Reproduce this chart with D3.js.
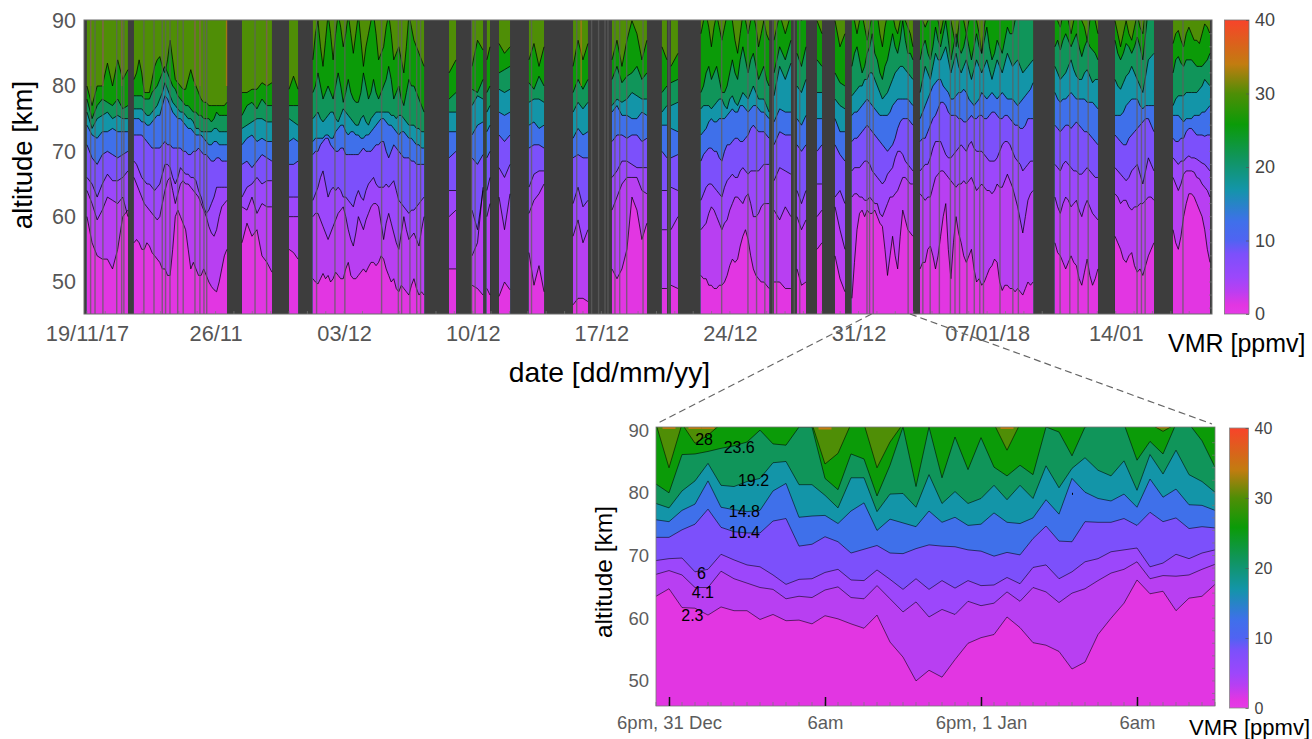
<!DOCTYPE html>
<html>
<head>
<meta charset="utf-8">
<script src="https://cdnjs.cloudflare.com/ajax/libs/d3/7.8.5/d3.min.js"></script>
<style>
body { margin: 0; background: #fff; }
svg { display: block; font-family: "Liberation Sans", Arial, sans-serif; }
</style>
</head>
<body>
<div id="chart"></div>
<script>
// contour levels [ppmv], bands are filled between them
var levels = [2.3, 4.1, 6, 10.4, 14.8, 19.2, 23.6, 28];

// colormap of the colorbars
var cmapValues = [0, 1.2, 3.2, 5, 8.2, 10, 12.6, 17, 21.4, 25.8, 30, 34, 40];
var cmapColors = ["#e63ae6", "#e236e2", "#b83ff2", "#9c47fb", "#7c50fb", "#5063f2", "#3f70ea", "#1395a8", "#10955a", "#0b9b08", "#4f8e06", "#c27c10", "#f8432a"];

// top panel: measurement blocks, in days after 19/11/17
var segStart = [0, 2.56, 8.44, 11.0, 12.3, 19.71, 20.96, 21.77, 22.43, 24.06, 26.46, 28.58, 31.3, 31.79, 33.42, 37.4, 38.65, 39.74, 40.72, 41.64, 45.35, 52.69, 55.96, 59.12];
var segEnd = [2.23, 7.62, 10.07, 11.49, 18.35, 20.09, 21.56, 21.94, 23.03, 24.88, 27.27, 30.48, 31.57, 32.17, 37.13, 38.32, 39.14, 40.01, 41.26, 44.96, 51.5, 55.03, 58.08, 61.13];

// top panel: altitude [km] of each contour, one list per block
var top2_3 = [
[60,56,54,53.5,53.5,52,55,60,61],
[56,56.5,56,55,55,56,55.5,54.5,54,53.5,53,52,52,51,51,55,60,61,60,59,58,55,52,53,52,51,51,52,51,50,49.3,48.8,48.5,50,52,54,55],
[56,59,57,58,54,53,51.5],
[55,54.5,53.5],
[50.5,50,49.7,50.5,51.3,50.5,51,50,50.5,51.5,51,50.5,50.5,52,53,51,50.5,50.5,51,51.5,52,51.5,52.3,53,53,52.5,53,54,53.5,52,51,50,50.5,49,48.5,49.5,49,48.5,48,49.5,50.5,49,48,48.5,48],
[52,52],
[49.5,49,48],
[49,48],
[47.8,50,48.8],
[54.5,49.5,52.5,48.5],
[46.5,47.5,47.5,47],
[52,50.5,52,55,63,61,56.5,59],
[49,49],
[49.5,49],
[51,50.5,50.5,49.5,49.5,49,49,49.5,49.5,50,51,52.5,53.5,53,53.5,55.5,57,58,56.5,54,52,51,50.5,50,50,49.5,49],
[50,50,49,49],
[52,49.5,50],
[55,56],
[54,50.5,48.5],
[47.5,53,58,60.5,61,60,61,60.5,60.5,61,60,59,58.5,55,51,54,57,54,52,57,61,59.5,58,57.5,57],
[52,53,53,55,55.5,54,52,54,57,60,62,55,50.5,56,60,57.5,56,54,53,54,55,52,50,50.5,49.5,50,51,52,52.5,53.5,53,50,48.7,49.5,49.5,49,49,48.5,49,48.5,48,49,50,49.5,50],
[56,54.5,54,53,52,53,54,53,52.5,50.5,49.5,51.5,53.5,51,49.5,50.5,52],
[57,56,55,53.5,53,54,54.5,52.5,51.5,52,51,52.5,54,55,56],
[58,56,55,57,60,62,63.5,63.5,63,62,61,60,58,55,53]
];
var top4_1 = [
[64,62,59.5,61,63,62.5,62,63,60],
[66,65,64,63,62,61.5,61,60.5,60,59.5,60,62,64,65.5,66,64,62,63.5,65,65.5,65,65,64.5,64,63.5,63,62,61,60,58.5,57.5,57,58,60,61.5,62,62.5],
[61.5,61,63,60.5,62,61.5,61.5],
[60,60,60],
[60,60.5,60.5,59.5,58.5,57.5,56.5,57.5,58.5,59.5,60.5,61,61.5,60,58,56.5,55.5,57.5,60,59,58,59.5,60.5,61.5,62,62,61.5,59,56.5,59,60.5,59,57.5,56,55,57.5,60,58,56.5,57,57.5,56.5,55.5,58,60],
[60,61],
[54,56,64.5],
[60,62],
[63,58,63.5],
[60.5,62.5,63.5,65],
[57,59.5,56,58],
[61,63,65,66,66,66,64,63.5],
[58,58],
[58,60],
[58,58.5,59,60.5,61.5,61,60,59,58,59,59.5,61,62,63,63,62.5,62,63,63.5,62,60,60,60.5,61.5,62,62,62],
[61,59.5,61.5,60],
[60,58,59.5],
[60,61],
[61.5,58,55],
[63,63.5,63.5,63,63,62.5,62.5,63,62.5,62,62,60.5,60,61,62,63,63,63.5,64,65,66,66,65.5,65,65],
[63.5,63,62.5,63,63,64.5,66,66.5,67,67,66.5,66,65.5,65,64.5,65,65,65.5,65,65.5,66,65,64,64.5,65,64.5,64,64,63.5,64,65,64.5,64.5,65.5,66.5,65.5,64.5,63,61.5,59.5,57.5,60,62.5,63.5,64],
[63,61.5,60.5,62,63,62.5,61.5,62,62.5,61,60,61.5,62.5,61.5,60.5,60,59.5],
[63.5,63,62,62.5,62.5,61.5,61,61.5,61.5,62,62,62.5,63,63,62.5],
[66,65,64,65,66.5,67,67,67,66.8,66,65.8,65,64.5,64,63]
];
var top6 = [
[66,65,63,65,66.5,65.5,65.5,66,67],
[68.5,68,67,66,65.5,65,65,64.5,64,64.5,65,66.5,68,68,67.5,66,65,66,67.5,67,66.5,66.5,66,66,65.5,64,63,61.5,60.5,61,62,63,64.5,64.5,64.5,64.5,64.5],
[63,64.5,65,66,65,65.5,65.5],
[63,63,63],
[62.5,63.5,64.5,66,67,65,63,64,64.5,64,64.5,64,63,63,62.5,62,61.5,63,64,63,62.5,64,65,65.5,66,65,64.5,64.5,64.5,65,64.5,65,65.5,64,62.5,62,61.5,61,60.5,61,61,61.5,62,62.5,63],
[64,64],
[61,58,64],
[64,66],
[67.5,66,68],
[64.5,66.5,67,67],
[62,64.5,61.5,62.5],
[66,67,68.5,68.5,68,67.5,67.5,67.5],
[64,64],
[64.5,64],
[62.5,63.5,64.5,65,65,64.5,64,63.5,63,64.5,65.5,66,66.5,66,66,67,67.5,67,66.5,67,67,67,67,67.5,68,68,68],
[65.5,67.5,67,66.5],
[64,62,64],
[65,65],
[63,64,62],
[67,67.5,67.5,67.5,68,68.5,68.5,68,67,66.5,66,65.5,65,65.5,66.5,67,67.5,69,70,70,69.5,68.5,68,67.5,67],
[67,67.5,68,68,69,70.5,71.5,71.5,71.5,70.5,69.5,69,69,69.5,70,70.5,71,70.5,70,71,71.5,70.5,70,70,70,69.5,69,68.5,68.5,68.5,69,70,71,71.5,71.5,71,70,69,68.5,68,67,67.5,68,68.5,68.5],
[68,67.5,67,68,68.5,68,67.5,67,67,66.5,66.5,67,67.5,67,66.5,66,66],
[67.5,67,66.5,66,65.5,66,67,67.5,68,66.5,65,67,69,68,67],
[69,68.5,68,68.5,68.5,69,69.3,69,69,68.8,68.5,68.2,68,67.5,67]
];
var top10_4 = [
[71,69,68,69.5,70,69.5,69,69.5,70],
[72.5,72.5,72.5,72.5,72,71.5,71,70.5,70.5,70.5,70.5,71,71.5,71,71,70.5,70.5,70.5,70.5,70,70,69.5,69.5,70,70,70.5,70,69.5,69.5,69,68.5,68.5,69,69,68.5,68.5,68.5],
[68,68.5,67.5,68.5,69.5,69,68.5],
[68,68,68.5],
[69.5,70,70,71,71.5,72,72,71,70.5,70,70,70.5,70.5,69.5,69.5,69.5,69.5,69.5,69.5,70,70.5,70,70,70,70.5,71,71,71.5,71.5,70,69,70,71,70.5,70,69.5,69,69,69,68.5,68.5,68,68,68,68],
[69,70],
[69,68,69.5],
[69,70],
[72.5,71.5,72.5],
[70.5,71,71,70.5],
[69,69.5,69,69],
[71.5,72.5,72.5,72,72.5,72.5,71.5,72],
[70,69],
[69,69.5],
[68.5,69.5,70,70.5,70.5,70,70,69,68.5,70,71,71,71.5,72,72,71.5,71.5,72,72.5,73.5,74,73.5,73,73,73,72.5,72],
[71,73,72.5,72.5],
[71,70,71],
[70,71],
[71,69.5,68.5],
[71.5,72,72,72.5,73,73.5,74,73.5,73,72.5,72,71.5,71,70.5,70,70.5,71,72,73.5,74.5,75,75,75,74.5,74],
[71.5,72,72,73,74,75,75.5,76.5,77.5,77.5,77,76,75.5,75.5,75.5,75,75,74.5,74.5,75,75.5,75,75,75.5,75.5,75,75,75.5,76,76,75.5,75,75,75.5,75.5,75,74.5,74,74,73.5,73.5,74,75,75,75],
[74,73.5,73,73.5,74,74,73.5,74,74.5,74,73.5,73,73,72.5,72,71.5,71],
[72.5,72,71.5,71,71,72,72.5,73,73.5,74,74.5,75,75,74,73],
[72,71.5,71.5,72,72,73,73.5,73.5,73,72.5,72.5,72.5,72.3,72.5,72.5]
];
var top14_8 = [
[74,72.5,72,73,73,73.5,73,73,73],
[75,75,75,74.5,74.5,74,74,74.5,75,75.5,75.5,77,78.5,78,77,76,75.5,75,75,74.5,74,73.5,73.5,73,72.5,72.5,72.5,72,71.5,71,71,71.5,71.5,71,71,71,71],
[71,72,72.5,71.5,72,71.5,71.5],
[71.5,72,71.5],
[71.5,72,72,72,72,72.5,72.5,72,72,73,73.5,74,74,73,72.5,73,73,72.5,72.5,72,72,72.5,72.5,73,73.5,74,74.5,75,75,74.5,74,74,73.5,73,72.5,73,73,72.5,72,72,71.5,71,71,70.5,70.5],
[73,73],
[72.5,74,74.5],
[73,74],
[76,75.5,76],
[74,74.5,73.5,74],
[72,73.5,72.5,73],
[76,77,75.5,75.5,75,75,76,75.5],
[74,74],
[73.5,73],
[72.5,73,73.5,74.5,75,74.5,74.5,75,75,75,75.5,76,76.5,76,76,77,77,76.5,76,76.5,77,77,76.5,76,76,75.5,75],
[74.5,76.5,76,76],
[75,74,75.5],
[75,75],
[75,73,73],
[75.5,76,76,76.5,77,77.5,78,77.5,77,76.5,76,75.5,75.5,75.5,75.5,76,77,77.5,78,78,78,78,78,77.5,77],
[75,76,77,78,79,80,80.5,81,81,80,79.5,79,78,78,78.5,79,79,79.5,79,78,77.5,77,77.5,78,79,78.5,78,78.5,79,78.5,78,78.5,79,78.5,78,78,78,77.5,77,77.5,78,78.5,79,79.5,80.5],
[79,78,77.5,78,78,78.5,79,78.5,78,78,78,78,77.5,77.5,77.5,77,76.5],
[75.5,75.5,75.5,76,77,77.5,78,78,78,77,76.5,77,77,77,77],
[75.5,75.5,75.5,75,74.5,75,75,75,75.5,75.5,75.5,76,76,76.5,77]
];
var top19_2 = [
[76,73.5,75,75.5,76,75,75.5,75,75],
[76.5,76.5,76.5,76.5,76,75.5,75.5,76,76.5,77,78,79,80.5,79.5,78.5,77.5,77,76.5,76,76,75.5,75,75,74.5,73.5,73.5,73,73,73,73,73,73.5,73.5,73,73,73,73],
[73.5,74,74.5,75,75,74.5,74.5],
[75,74.5,74],
[75,75.5,76,75,74.5,75,75.5,76,76,75,74.5,75.5,76.5,76,75.5,75,74.5,74,74,75,75.5,74.5,74,75,75.5,76,76,76,76,76,76,75.5,75.5,75,75.5,75.5,75,74.5,74,74,74,73.5,73.5,73,73],
[76,76],
[77,78.5,78],
[76,77],
[79.5,79,79.5],
[77.5,78,78,77.5],
[76,77.5,76.5,77.5],
[77,78,77.5,78,79,78.5,78,78],
[76,77],
[77,77.5],
[76.5,77,77,77,76.5,77,77.5,78,78,77,76.5,78,78.5,77.5,77,78,79,78.5,78,79,80,79,78,78,78,77,76],
[78.5,83,81,83.5],
[80,79,81],
[79,79],
[78,77,76.5],
[78.5,79,79.5,80,80,81,81,82,82,81,80,79,78,78.5,79,80,81,82,82.5,83,83,82.5,82,81.5,81],
[79,81,83,82,81,83,85,84,84,85,86,84,82,83.5,85,83,82,83,84,82.5,81,82.5,84,83,82,83,84,82.5,81,82.5,84,83,82,83.5,85,84,83,83.5,84,83,82,82.5,83,83.5,84],
[83,82,81,81.5,82,83,84,82.5,81.5,81,81,82,82.5,81.5,80.5,81,81],
[81,80,79.5,80.5,81.5,82,83,82,81,80,79,81.5,84,84.5,85],
[77,78,78.5,78.5,78.5,79,79,79,79,79,79.5,80,81,80.5,80]
];
var top23_6 = [
[78,75,77,78,77.5,77,78,76.5,77],
[78.5,78.5,78.5,78.5,78,78,78,79,79.5,80,81,82,83,82,81,80,79.5,78.5,78,77.5,77,77,76.5,76,76,75.5,75.5,75,75,75,74.5,75,76,75.5,75.5,75.5,75.5],
[75.5,77,77.5,76.5,78,77,77],
[77,77,77],
[79,80,82,80,78,79,80,79,78,80,82,80,77.5,79,81,79,78,77.5,77.5,79,82,80,78,79,81,79,78,79,80,81,83,81,78,79,80,78,77,79,81,80,80,79,78,77,76],
[78,79],
[79.5,79,81],
[79,80],
[82,82.5,83],
[80.5,79.5,81.5,80],
[79,81,79.5,81],
[81,83,80.5,81.5,82,83,81,82],
[79,80],
[80.5,81],
[79,80,82,83,81,82,83,81,79,79,80,82,84,82,81,84,86,84,82,84,85,83,81,82,83,81,80],
[82,86,84,87],
[85,83,86],
[84,83],
[82,80.5,80],
[83,85,86,84,82,83,85,86,88,85,84,82,81,83,84,86,88,86,85,87,90,87,85,85,84],
[84,86,87,85,84,86,89,87,86,88,90,87,84,86,88,86,85,86,88,86,84,86,88,86,85,87,89,86,84,85,87,86,85,87,89,88,88,90,91,92,92,92,92,92,92],
[86,87,85.5,87,88,87,86,87,88,86,84.5,86,87,86,85.5,85,84],
[87,85,84,85,86.5,86,85,86,87.5,86,84,88,92,92,92],
[82,84,84.5,83.5,83,84,84,84,83.5,83,83,83,83.5,84,85]
];
var top28 = [
[80,77,80,80,83.5,80,84,81,82.5],
[81,82,84,82,79,79,79,81,83,84,84.5,83,82,84,87,84,81,80.5,80,79.5,79.5,81,82.5,81,80,79,78,77.5,77.5,77,77,77,77,77,77,77,77.5],
[79,79,79.5,79.5,80.5,80,80.5],
[79.5,81.5,79.5],
[84,88,90,86,83,87,91,88,84,88,91,89,86,88,91,88,85,88,91,87,83,86,88,90,91,88,84,85,86,89,91,88,84,85,86,84,82,86,91,89,87,86,85,84,83],
[82,84],
[83,87,85.5],
[84,86],
[86.5,85,86],
[84,86.5,83,86],
[83,87,84,86.5],
[84,87,83,87,90,88,84,87],
[86,84],
[83,85],
[88,90,91,89,86,89,91,89,87,89,91,92,90,87,85,88,91,90,88,90,91,89,86,88,90,88,87],
[87,91,88,91],
[91,90,91],
[90,88],
[90,86,88],
[91,90,88,90,91,89,87,89,91,92,91,88,86,89,91,92,91,89,88,90,91,90,89,88,86],
[91,90,89,90,91,92,92,90,88,90,92,91,90,88,86,89,92,90,88,90,92,91,90,88,85,89,92,92,92,92,92,92,92,92,92,92,92,92,92,92,92,92,92,92,92],
[91,90,89,91,92,90,88,90,92,91,90,89,87,90,92,90,88],
[90,88,86,88,90,88,87,89,91,89,88,92,92,92,92],
[86.5,88,88.5,87,86,88,89,88,87,87,86.5,88,89.5,89,88]
];
var topContours = [top2_3, top4_1, top6, top10_4, top14_8, top19_2, top23_6, top28];

// top panel: single missing profiles inside the blocks, in days
var missingDays = [0.2,0.44,0.87,1.62,1.89,2.01,3.1,3.65,4.1,4.28,4.52,4.94,5.24,5.88,6.15,6.37,6.52,9.15,9.78,12.5,13.5,14.04,16.04,16.95,17.13,17.58,17.95,18.16,20.94,21.13,24.2,26.66,27.47,27.85,28.2,28.36,28.74,29.0,29.38,30.27,31.68,34.55,35.98,36.45,36.9,37.34,37.54,38.5,38.8,42.46,42.6,42.8,44.7,45.5,45.9,46.4,47,47.25,47.5,47.9,48.3,48.6,48.8,49.7,50.4,50.7,52.97,53.5,53.95,54.5,57.16,57.4,57.6,59.66];
var hotDays = [0.2,0.87,1.89,5.88,6.15,7.6,9.78,26.9];

// tick labels of the top panel
var weekDays = [0, 7, 14, 21, 28, 35, 42, 49, 56];
var weekLabels = ["19/11/17", "26/11", "03/12", "10/12", "17/12", "24/12", "31/12", "07/01/18", "14/01"];

// zoomed period, days after 19/11/17
var zoomStartDay = 42.71;
var zoomEndDay = 44.8;

// lower panel: one value per hour, starting 5pm on 31 Dec
var hourly2_3 = [63.5,64.7,61.7,61.6,60.5,61.8,61.2,61.2,59.8,60.6,59.6,59.7,59.1,60.4,59.9,59.1,58.4,60.5,56.2,53.8,50,51.7,50.6,53.4,56,56.9,57.4,60.2,58.5,56.1,55.7,54.7,51.9,53,57.4,60,62.4,66.1,63.9,64.3,61.2,63.2,63.5,65.4];
var hourly4_1 = [67,67.6,66.9,64.9,64.9,67.5,66.3,65.6,64.9,64.6,63.1,63.5,63.3,64.5,65,63.3,63.1,65.2,63.1,61,62.6,60.2,61.4,60.6,62.7,62,62.4,64.2,62.7,64.9,64.2,62.5,64,64.7,66,67.2,67.8,69,66.3,66.8,66.7,66.9,67.8,68.6];
var hourly6 = [69.2,69.5,69.6,67.4,67.8,70.2,69.3,68.5,68.2,66.9,65.4,66.2,66.3,67.3,67.8,66.1,66,67.7,66.2,64.6,66.3,64.6,66,64.8,66,65.2,65.3,66.5,65.5,68.1,68.5,66.3,67.4,69,69.5,70.6,70.9,71.2,68.2,68.8,70.2,69.5,70.4,70.9];
var hourly10_4 = [72.9,72.9,74.1,75,77.4,74.5,73.8,73.6,73.6,75.5,75.9,71.5,71.8,73,72.2,70.4,71,71.6,70.4,70.3,71.1,71.7,71.5,71.4,70.9,70.7,69.9,70.5,70.1,72.7,74.7,72.3,72.2,75.4,75.3,75.3,75.9,74.8,76.9,75.4,76,74.3,74.6,74.4];
var hourly14_8 = [75.7,75.4,77.2,78.2,81.9,77.7,77.3,77,77.2,80.3,81.5,76.1,76.3,76.4,75.1,77.1,78.4,74,75.8,75.2,74.6,77.1,75.3,76.1,74.8,75,76.8,75.3,75.1,76,78.9,76.6,82.3,80.1,79.1,78.7,79.8,77.7,82.2,79.3,80.6,78.1,78,77.2];
var hourly19_2 = [78.3,77.6,80.3,81.9,84.7,81.2,81,81.8,82.3,84.8,85,81.3,81.3,79.6,77.6,82.4,82.4,77,79.8,79.9,77.7,82.9,78.3,80.2,78.3,79.1,81.2,78.9,81.2,79.1,84.3,80.8,83.9,85.6,83.6,82.7,85.1,80.4,86.1,83,86.8,82.9,81.8,80.1];
var hourly23_6 = [81.4,80,86.1,86.2,86.6,87.1,87.5,88.1,90,87.8,87.6,90.5,90.5,82.3,80.5,86.2,85.4,79.5,84.4,90.5,81,90.5,82.4,88.9,83.7,88.8,84.1,82.7,84.4,82.9,90.5,89.7,85.9,90.5,91,91,91,85.2,88.2,86.2,91,91,88.3,84.1];
var hourly28 = [91,84,91,87.9,89.2,91,91,91,91,91,91,91,91,84.6,86.3,91,91,84,88.1,91,91,91,91,91,91,91,91,86.8,91,91,91,91,91,91,91,91,91,91,91,89.8,91,91,91,91];
var hourly32 = [91,90.2,91,90.2,90.2,91,91,91,91,91,91,91,91,90.1,91,91,91,91,91,91,91,91,91,91,91,91,91,90.2,91,91,91,91,91,91,91,91,91,91,91,90.3,91,91,91,91];
var hourlyContours = [hourly2_3, hourly4_1, hourly6, hourly10_4, hourly14_8, hourly19_2, hourly23_6, hourly28];

// labels on the lower panel contours
var labelText = ["28", "23.6", "19.2", "14.8", "10.4", "6", "4.1", "2.3"];
var labelHour = [3.7, 6.4, 7.5, 6.8, 6.8, 3.5, 3.6, 2.8];
var labelAlt = [88.6, 87.3, 82, 77.1, 73.7, 67.2, 64.2, 60.5];

var zoomTickHours = [1, 13, 25, 37];
var zoomTickLabels = ["6pm, 31 Dec", "6am", "6pm, 1 Jan", "6am"];

var colorOf = d3.scaleLinear().domain(cmapValues).range(cmapColors);
function bandColor(i) {
  var lo = i == 0 ? 0 : levels[i - 1];
  var hi = i < levels.length ? levels[i] : 32;
  return colorOf((lo + hi) / 2);
}

var svg = d3.select("#chart").append("svg").attr("width", 1312).attr("height", 739);
var defs = svg.append("defs");

// scales
var xTop = d3.scaleLinear().domain([-0.16, 61.24]).range([84, 1212]);
var yTop = d3.scaleLinear().domain([45.1, 90.1]).range([314, 20]);
var xLow = d3.scaleLinear().domain([0, 43]).range([656, 1215]);
var yLow = d3.scaleLinear().domain([46, 90.5]).range([706, 427]);

defs.append("clipPath").attr("id", "clipTop").append("rect")
  .attr("x", 84).attr("y", 20).attr("width", 1128).attr("height", 294);
defs.append("clipPath").attr("id", "clipLow").append("rect")
  .attr("x", 656).attr("y", 427).attr("width", 559).attr("height", 279);

var gradient = defs.append("linearGradient").attr("id", "cmap")
  .attr("x1", 0).attr("y1", 1).attr("x2", 0).attr("y2", 0);
gradient.selectAll("stop").data(cmapValues).enter().append("stop")
  .attr("offset", function (d) { return d / 40; })
  .attr("stop-color", function (d, i) { return cmapColors[i]; });

// ---- top panel
var gTop = svg.append("g").attr("clip-path", "url(#clipTop)");
gTop.append("rect").attr("x", 84).attr("y", 20).attr("width", 1128).attr("height", 294).attr("fill", "#3d3d3d");

// top band first, lower bands are painted over it
segStart.forEach(function (s, k) {
  gTop.append("rect")
    .attr("x", xTop(s)).attr("y", 20)
    .attr("width", xTop(segEnd[k]) - xTop(s)).attr("height", 294)
    .attr("fill", bandColor(levels.length));
});

function segX(k, n) {
  return d3.scaleLinear().domain([0, n - 1]).range([xTop(segStart[k]), xTop(segEnd[k])]);
}
for (var lev = levels.length - 1; lev >= 0; lev--) {
  topContours[lev].forEach(function (vals, k) {
    var sx = segX(k, vals.length);
    gTop.append("path").datum(vals)
      .attr("fill", bandColor(lev))
      .attr("d", d3.area().x(function (d, i) { return sx(i); }).y0(314).y1(function (d) { return yTop(d); }));
  });
}
topContours.forEach(function (contour) {
  contour.forEach(function (vals, k) {
    var sx = segX(k, vals.length);
    gTop.append("path").datum(vals)
      .attr("fill", "none").attr("stroke", "#000").attr("stroke-width", 0.8).attr("stroke-opacity", 0.9)
      .attr("d", d3.line().x(function (d, i) { return sx(i); }).y(function (d) { return yTop(d); }));
  });
});

gTop.selectAll("line.hot").data(hotDays).enter().append("line")
  .attr("x1", function (d) { return xTop(d); }).attr("x2", function (d) { return xTop(d); })
  .attr("y1", yTop(90.1)).attr("y2", yTop(80))
  .attr("stroke", "#c9701c").attr("stroke-width", 1.4).attr("stroke-opacity", 0.7);
gTop.selectAll("line.gap").data(missingDays).enter().append("line")
  .attr("x1", function (d) { return xTop(d); }).attr("x2", function (d) { return xTop(d); })
  .attr("y1", 20).attr("y2", 314)
  .attr("stroke", "#5f5f5f").attr("stroke-width", 1.4).attr("stroke-opacity", 0.75);

// frame, minor ticks and axes of the top panel
svg.append("rect").attr("x", 84).attr("y", 20).attr("width", 1128).attr("height", 294)
  .attr("fill", "none").attr("stroke", "#6a6a6a").attr("stroke-width", 1);

function minorTicks(g, values, fn) {
  g.selectAll("line.minor" + values.length).data(values).enter().append("line")
    .each(fn).attr("stroke", "#777").attr("stroke-width", 0.7);
}
minorTicks(svg, d3.range(46, 90, 2), function (d) {
  d3.select(this).attr("x1", 1209).attr("x2", 1212).attr("y1", yTop(d)).attr("y2", yTop(d));
});
minorTicks(svg, d3.range(0, 61), function (d) {
  d3.select(this).attr("x1", xTop(d)).attr("x2", xTop(d)).attr("y1", 311).attr("y2", 314);
});

function styleAxis(g, size, color) {
  g.select(".domain").remove();
  g.selectAll("text").attr("font-size", size).attr("fill", color).attr("font-family", "Liberation Sans");
}

svg.append("g").attr("transform", "translate(84,0)")
  .call(d3.axisLeft(yTop).tickValues([50, 60, 70, 80, 90]).tickSize(0).tickPadding(8))
  .call(styleAxis, 21.5, "#565656");
svg.append("g").attr("transform", "translate(0,314)")
  .call(d3.axisBottom(xTop).tickValues(weekDays).tickSize(0).tickPadding(12)
    .tickFormat(function (d, i) { return weekLabels[i]; }))
  .call(styleAxis, 21.8, "#565656");

svg.append("text").attr("transform", "translate(32,155) rotate(-90)")
  .attr("text-anchor", "middle").attr("font-size", 27.5).text("altitude [km]");
svg.append("text").attr("x", 609.5).attr("y", 382)
  .attr("text-anchor", "middle").attr("font-size", 28.3).text("date [dd/mm/yy]");

// top colorbar
var cbTop = d3.scaleLinear().domain([0, 40]).range([314, 20]);
svg.append("rect").attr("x", 1224.5).attr("y", 20).attr("width", 24.5).attr("height", 294)
  .attr("fill", "url(#cmap)").attr("stroke", "#777").attr("stroke-width", 0.8);
svg.append("g").attr("transform", "translate(1249,0)")
  .call(d3.axisRight(cbTop).tickValues([0, 10, 20, 30, 40]).tickSize(-3).tickPadding(6))
  .call(styleAxis, 18, "#444")
  .selectAll("line").attr("stroke", "#555").attr("stroke-width", 0.7);
svg.append("text").attr("x", 1168).attr("y", 352).attr("font-size", 25).text("VMR [ppmv]");

// ---- connector lines between the panels
var connector = [[zoomStartDay, 656], [zoomEndDay, 1212]];
svg.selectAll("line.zoomline").data(connector).enter().append("line")
  .attr("x1", function (d) { return xTop(d[0]); }).attr("y1", 314)
  .attr("x2", function (d) { return d[1]; }).attr("y2", 424)
  .attr("stroke", "#666").attr("stroke-width", 1.2).attr("stroke-dasharray", "7,4");

// ---- lower panel
var gLow = svg.append("g").attr("clip-path", "url(#clipLow)");
gLow.append("rect").attr("x", 656).attr("y", 427).attr("width", 559).attr("height", 279)
  .attr("fill", bandColor(levels.length));

var lowArea = d3.area().x(function (d, i) { return xLow(i); }).y0(706).y1(function (d) { return yLow(d); });
var lowLine = d3.line().x(function (d, i) { return xLow(i); }).y(function (d) { return yLow(d); });

for (var j = levels.length - 1; j >= 0; j--) {
  gLow.append("path").datum(hourlyContours[j]).attr("fill", bandColor(j)).attr("d", lowArea);
}
// orange tips above 32 ppmv, right under the top edge
gLow.selectAll("rect.tip").data(hourly32.map(function (d, i) { return [i, d]; }).filter(function (d) { return d[1] < 91; }))
  .enter().append("rect")
  .attr("x", function (d) { return xLow(d[0] - 0.5); })
  .attr("y", yLow(90.5))
  .attr("width", xLow(1) - xLow(0))
  .attr("height", function (d) { return yLow(d[1]) - yLow(90.5); })
  .attr("fill", "#c27c10");
hourlyContours.forEach(function (vals) {
  gLow.append("path").datum(vals)
    .attr("fill", "none").attr("stroke", "#000").attr("stroke-width", 0.7).attr("stroke-opacity", 0.8)
    .attr("d", lowLine);
});

gLow.append("rect").attr("x", xLow(32)).attr("y", yLow(80)).attr("width", 1).attr("height", 2).attr("fill", "#000");

gLow.selectAll("text.clabel").data(labelText).enter().append("text")
  .attr("x", function (d, i) { return xLow(labelHour[i]); })
  .attr("y", function (d, i) { return yLow(labelAlt[i]); })
  .attr("dy", "0.36em").attr("text-anchor", "middle").attr("font-size", 16).attr("fill", "#000")
  .text(function (d) { return d; });

svg.append("rect").attr("x", 656).attr("y", 427).attr("width", 559).attr("height", 279)
  .attr("fill", "none").attr("stroke", "#777").attr("stroke-width", 0.8);

minorTicks(svg, d3.range(48, 90, 2).concat([47]), function (d) {
  d3.select(this).attr("x1", 1212).attr("x2", 1215).attr("y1", yLow(d)).attr("y2", yLow(d));
});
minorTicks(svg, d3.range(0, 44), function (d) {
  d3.select(this).attr("x1", xLow(d)).attr("x2", xLow(d)).attr("y1", 702).attr("y2", 706);
});

svg.append("g").attr("transform", "translate(656,0)")
  .call(d3.axisLeft(yLow).tickValues([50, 60, 70, 80, 90]).tickSize(0).tickPadding(7))
  .call(styleAxis, 18.5, "#5c5c5c");
svg.append("g").attr("transform", "translate(0,706)")
  .call(d3.axisBottom(xLow).tickValues(zoomTickHours).tickSize(-9).tickPadding(10)
    .tickFormat(function (d, i) { return zoomTickLabels[i]; }))
  .call(styleAxis, 18.5, "#5c5c5c")
  .selectAll("line").attr("stroke", "#111").attr("stroke-width", 1.5);

svg.append("text").attr("transform", "translate(612,572) rotate(-90)")
  .attr("text-anchor", "middle").attr("font-size", 24.5).text("altitude [km]");

// lower colorbar
var cbLow = d3.scaleLinear().domain([0, 40]).range([708, 428]);
svg.append("rect").attr("x", 1229.5).attr("y", 428).attr("width", 19).attr("height", 280)
  .attr("fill", "url(#cmap)").attr("stroke", "#888").attr("stroke-width", 0.8);
svg.append("g").attr("transform", "translate(1248.5,0)")
  .call(d3.axisRight(cbLow).tickValues([0, 10, 20, 30, 40]).tickSize(-3).tickPadding(6))
  .call(styleAxis, 16, "#444")
  .selectAll("line").attr("stroke", "#555").attr("stroke-width", 0.7);
svg.append("text").attr("x", 1189).attr("y", 735).attr("font-size", 22).text("VMR [ppmv]");
</script>
</body>
</html>
